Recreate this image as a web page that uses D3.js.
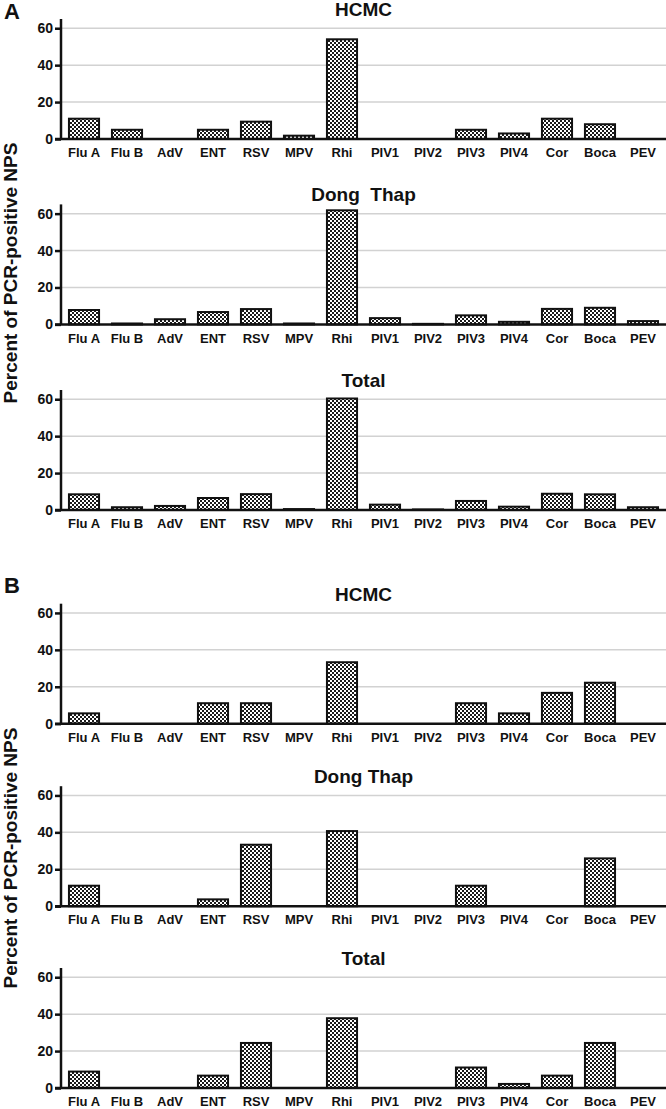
<!DOCTYPE html>
<html><head><meta charset="utf-8">
<script src="https://cdn.jsdelivr.net/npm/d3@7"></script>
<style>
html,body{margin:0;padding:0;background:#fff;}
svg{display:block;font-family:Arial,"Liberation Sans",Helvetica,sans-serif;}
</style></head>
<body>
<script>
// ---- data ----
const categories = ["Flu A","Flu B","AdV","ENT","RSV","MPV","Rhi","PIV1","PIV2","PIV3","PIV4","Cor","Boca","PEV"];
const yTicks = [0, 20, 40, 60];
const panelTitles = ["HCMC", "Dong  Thap", "Total", "HCMC", "Dong Thap", "Total"];
const sectionLabels = ["A", "B"];
const yAxisTitle = "Percent of PCR-positive NPS";

const aHCMC     = [11, 5, 0, 5, 9.4, 1.8, 54, 0, 0, 5, 3, 11, 8, 0];
const aDongThap = [7.8, 0.5, 2.8, 6.7, 8.3, 0.5, 61.8, 3.4, 0.3, 4.9, 1.4, 8.4, 9.0, 1.8];
const aTotal    = [8.5, 1.5, 2.2, 6.5, 8.6, 0.5, 60.4, 2.9, 0.3, 4.9, 1.8, 8.8, 8.5, 1.5];
const bHCMC     = [5.6, 0, 0, 11.1, 11.1, 0, 33.3, 0, 0, 11.1, 5.6, 16.7, 22.2, 0];
const bDongThap = [11.1, 0, 0, 3.7, 33.3, 0, 40.7, 0, 0, 11.1, 0, 0, 25.9, 0];
const bTotal    = [8.9, 0, 0, 6.7, 24.4, 0, 37.8, 0, 0, 11.1, 2.2, 6.7, 24.4, 0];

const panelValues = [aHCMC, aDongThap, aTotal, bHCMC, bDongThap, bTotal];

// ---- layout ----
const W = 666, H = 1109;
const zeroYs = [139, 324.4, 510, 723.7, 906.2, 1088];
const plotLeft = 61, plotRight = 666;
const plotH = 120; // px for domain 0..65

const svg = d3.select("body").append("svg").attr("width", W).attr("height", H);

const defs = svg.append("defs");
const pat = defs.append("pattern").attr("id", "checker")
  .attr("patternUnits", "userSpaceOnUse").attr("width", 4).attr("height", 4);
pat.append("rect").attr("width", 4).attr("height", 4).attr("fill", "#fff");
pat.append("rect").attr("x", 0).attr("y", 0).attr("width", 2).attr("height", 2).attr("fill", "#1a1a1a");
pat.append("rect").attr("x", 2).attr("y", 2).attr("width", 2).attr("height", 2).attr("fill", "#1a1a1a");

const x = d3.scaleBand().domain(categories).range([plotLeft, plotRight])
  .paddingInner(0.3).paddingOuter(0.185);

panelValues.forEach((vals, i) => {
  const z = zeroYs[i];
  const y = d3.scaleLinear().domain([0, 65]).range([z, z - plotH]);
  const g = svg.append("g");

  // gridlines
  g.selectAll("line.grid").data(yTicks.filter(t => t > 0)).enter().append("line")
    .attr("x1", plotLeft).attr("x2", plotRight)
    .attr("y1", d => y(d)).attr("y2", d => y(d))
    .attr("stroke", "#d2d2d2").attr("stroke-width", 1.5);

  // bars
  const data = categories.map((c, k) => ({c, v: vals[k]})).filter(d => d.v > 0);
  g.selectAll("rect.bar").data(data).enter().append("rect")
    .attr("x", d => x(d.c)).attr("width", x.bandwidth())
    .attr("y", d => y(d.v)).attr("height", d => y(0) - y(d.v))
    .attr("fill", "url(#checker)").attr("stroke", "#111").attr("stroke-width", 2);

  // y axis
  const ya = g.append("g").attr("transform", `translate(${plotLeft},0)`)
    .call(d3.axisLeft(y).tickValues(yTicks).tickSize(6).tickPadding(2));
  ya.select(".domain").attr("stroke", "#111").attr("stroke-width", 2.5)
    .attr("d", `M0,${y(65)}V${y(0)}`);
  ya.selectAll(".tick line").attr("stroke", "#111").attr("stroke-width", 2.5);
  ya.selectAll(".tick text").attr("font-size", 14).attr("font-weight", "bold")
    .attr("fill", "#111").attr("font-family", "Arial, 'Liberation Sans', sans-serif");

  // x axis
  const xa = g.append("g").attr("transform", `translate(0,${z})`)
    .call(d3.axisBottom(x).tickSize(0).tickPadding(9));
  xa.select(".domain").attr("stroke", "#111").attr("stroke-width", 2.5)
    .attr("d", `M${plotLeft - 6},0H${plotRight}`);
  xa.selectAll(".tick text").attr("font-size", 13).attr("font-weight", "bold")
    .attr("fill", "#111").attr("font-family", "Arial, 'Liberation Sans', sans-serif");

  // title
  g.append("text").attr("x", (plotLeft + plotRight) / 2).attr("y", z - 123)
    .attr("text-anchor", "middle").attr("font-size", 19).attr("font-weight", "bold")
    .style("white-space", "pre").attr("fill", "#111").text(panelTitles[i]);
});

// section labels
const secY = [19, 593];
sectionLabels.forEach((s, i) => {
  svg.append("text").attr("x", 4).attr("y", secY[i]).attr("font-size", 22)
    .attr("font-weight", "bold").attr("fill", "#111").text(s);
});

// y axis titles
const yTitleCenters = [273, 858];
yTitleCenters.forEach(cy => {
  svg.append("text").attr("transform", `translate(17,${cy}) rotate(-90)`)
    .attr("text-anchor", "middle").attr("font-size", 19).attr("font-weight", "bold")
    .attr("fill", "#111").text(yAxisTitle);
});
</script>
</body></html>
